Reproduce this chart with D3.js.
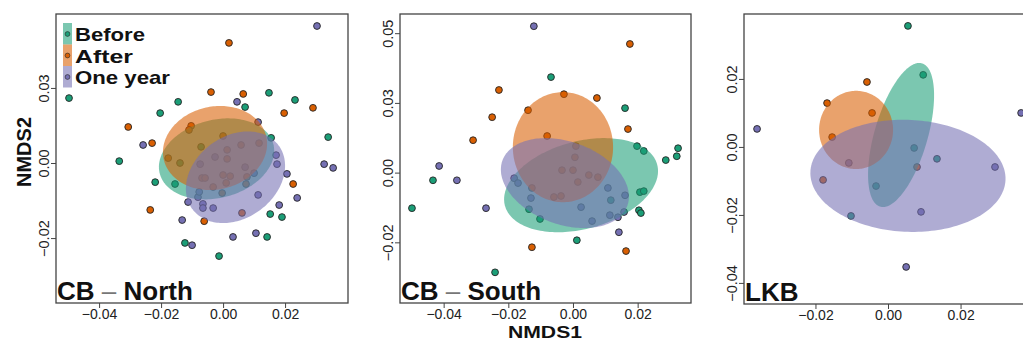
<!DOCTYPE html>
<html>
<head>
<meta charset="utf-8">
<script src="https://cdn.jsdelivr.net/npm/d3@7"></script>
<style>
  body { margin: 0; background: #fff; }
  svg { display: block; font-family: "Liberation Sans", Arial, Helvetica, sans-serif; }
</style>
</head>
<body>
<svg id="chart" width="1023" height="342"></svg>
<script>
// groups and colours
const groups = ['Before', 'After', 'One year'];
const dotColors = ['#1B9E77', '#D95F02', '#7570B3'];

// CB - North ordination scores
const northBefore = [[-0.0497,0.0173],[0.0148,0.0187],[0.0232,0.0168],[0.0071,0.0149],[-0.0145,0.0163],[-0.0203,0.0133],
  [0.0155,0.0067],[0.0339,0.0069],[-0.0335,0.0005],[-0.0219,-0.0051],[-0.0155,-0.0056],[0.0152,-0.0136],[0.019,-0.0144],
  [0.0142,-0.0197],[-0.0123,-0.0213],[-0.0013,-0.0248],[-0.0139,0.0],[-0.0071,0.0043]];
const northAfter = [[0.0019,0.032],[-0.0039,0.0189],[0.0065,0.0184],[0.029,0.0147],[0.0197,0.0133],[-0.0306,0.0096],
  [-0.0229,0.0053],[-0.0235,-0.0125],[-0.0061,-0.0155],[0.0226,-0.0056],[0.0061,-0.0133],[-0.0103,0.0099],[-0.011,0.0088],
  [0.0,0.0072],[-0.0177,0.0013],[0.0058,0.0048],[0.0116,0.0053],[0.0013,0.0035],[0.0013,0.0011],[-0.0068,-0.004],
  [-0.0058,-0.004],[0.0,-0.0032],[0.0023,-0.0035],[0.0077,-0.0037],[-0.0032,-0.0064],[0.001,-0.0053],[0.0074,-0.0056],[-0.0003,-0.008]];
const northYear = [[0.0303,0.0365],[0.0045,0.0163],[0.0113,0.0109],[-0.0258,0.0048],[0.0326,-0.0003],[0.0355,-0.0013],
  [0.0206,-0.0029],[0.0239,-0.0093],[0.0181,-0.0112],[-0.0113,-0.0104],[-0.0065,-0.0109],[-0.0065,-0.012],[-0.0032,-0.012],
  [-0.0132,-0.0152],[0.0106,-0.0187],[0.0032,-0.0197],[-0.01,-0.0219],[-0.0026,0.0016],[-0.0074,-0.0003],[0.0071,-0.0011],
  [0.0171,0.0021],[0.0174,-0.0003],[-0.0081,-0.0091],[0.0113,-0.0085],[-0.0077,-0.0077],[0.01,-0.0027]];

// CB - South ordination scores
const southBefore = [[-0.0068,0.0274],[0.0161,0.0185],[0.0198,0.0076],[0.0219,0.0062],[0.0325,0.007],[0.0321,0.0047],
  [0.0287,0.0036],[-0.0433,-0.0022],[-0.0498,-0.0102],[-0.0102,-0.0133],[0.0204,-0.0108],[0.021,-0.0116],[0.0012,-0.0194],
  [-0.0241,-0.0286],[0.0207,-0.0056],[0.0219,-0.0053],[0.0117,-0.0079],[-0.0136,-0.0105]];
const southAfter = [[0.0176,0.0369],[-0.0229,0.0237],[-0.0028,0.0225],[0.0074,0.0214],[-0.0139,0.0179],[-0.025,0.0159],
  [0.017,0.0125],[-0.0309,0.0093],[-0.0127,-0.0214],[0.0164,-0.0225],[-0.008,0.0105],[0.0009,0.0076],[0.0006,0.0044],
  [-0.0034,0.0007],[0.0,0.0007],[0.0049,-0.0007],[0.0077,-0.0013],[0.0015,-0.0027],[-0.0059,-0.007],[-0.0037,-0.0067],[-0.0127,-0.0044]];
const southYear = [[-0.0121,0.042],[-0.0414,0.0019],[-0.0359,-0.0022],[-0.0269,-0.0102],[-0.0182,-0.0016],[-0.017,-0.003],
  [0.0142,-0.0171],[-0.013,-0.0073],[0.0108,-0.0044],[0.0161,-0.0065],[0.0025,-0.0099],[0.0114,-0.0122],[0.0139,-0.0128],
  [0.0158,-0.0113],[0.0059,-0.0139]];

// LKB ordination scores
const lkbBefore = [[0.0055,0.0356],[0.0097,0.0212],[0.0072,-0.0003],[0.0135,-0.0035],[-0.0033,-0.0115],[-0.0102,-0.0203]];
const lkbAfter = [[-0.0058,0.0191],[-0.0168,0.0129],[-0.0044,0.01],[-0.0154,0.0029],[-0.0179,-0.0097],[0.008,-0.0059]];
const lkbYear = [[0.0367,0.01],[-0.0361,0.0053],[-0.0108,-0.0047],[0.0295,-0.0059],[0.0091,-0.0191],[0.005,-0.0353]];

// ellipses: centre, spread in x and y, correlation (order Before, After, One year)
const northEllipses = [
  { cx: -0.0021, cy: 0.0011, sx: 0.0186, sy: 0.0108, r: 0.2 },
  { cx: -0.0026, cy: 0.0040, sx: 0.0168, sy: 0.0112, r: 0.1 },
  { cx: 0.0040, cy: -0.0038, sx: 0.0160, sy: 0.0122, r: 0.25 }];
const southEllipses = [
  { cx: 0.0025, cy: -0.0036, sx: 0.0238, sy: 0.0135, r: 0.3 },
  { cx: -0.0031, cy: 0.0073, sx: 0.0155, sy: 0.0158, r: 0.0 },
  { cx: -0.0025, cy: -0.0030, sx: 0.0198, sy: 0.0129, r: -0.3 }];
const lkbEllipses = [
  { cx: 0.0036, cy: 0.0035, sx: 0.0091, sy: 0.0212, r: 0.55 },
  { cx: -0.0088, cy: 0.0050, sx: 0.0102, sy: 0.0115, r: 0.0 },
  { cx: 0.0055, cy: -0.0085, sx: 0.0269, sy: 0.0165, r: -0.05 }];

// ticks
const northXTicks = [-0.04, -0.02, 0, 0.02];
const southXTicks = [-0.04, -0.02, 0, 0.02];
const lkbXTicks = [-0.02, 0, 0.02];
const northYTicks = [0.02, 0, -0.02];
const northYLabels = ['0.03', '0.00', '\u22120.02'];
const southYTicks = [0.04, 0.02, 0, -0.02];
const southYLabels = ['0.05', '0.03', '0.00', '\u22120.02'];
const lkbYTicks = [0.02, 0, -0.02, -0.04];
const lkbYLabels = ['0.02', '0.00', '\u22120.02', '\u22120.04'];

const panels = [
  { title: 'CB', place: 'North', box: [56, 14, 348, 303], xlim: [-0.0539, 0.0403], ylim: [-0.0373, 0.0397],
    sets: [northBefore, northAfter, northYear], ellipses: northEllipses,
    xTicks: northXTicks, yTicks: northYTicks, yLabels: northYLabels, legend: true },
  { title: 'CB', place: 'South', box: [400, 14, 691, 303], xlim: [-0.0535, 0.0365], ylim: [-0.0374, 0.0455],
    sets: [southBefore, southAfter, southYear], ellipses: southEllipses,
    xTicks: southXTicks, yTicks: southYTicks, yLabels: southYLabels },
  { title: 'LKB', place: null, box: [744, 14, 1036, 304], xlim: [-0.0397, 0.0408], ylim: [-0.0462, 0.0391],
    sets: [lkbBefore, lkbAfter, lkbYear], ellipses: lkbEllipses,
    xTicks: lkbXTicks, yTicks: lkbYTicks, yLabels: lkbYLabels }
];

const svg = d3.select('#chart');
const fmt = d => d3.format('.2f')(d).replace('-', '\u2212');
const fillOpacity = 0.58;

panels.forEach(p => {
  const [x0, y0, x1, y1] = p.box;
  const x = d3.scaleLinear().domain(p.xlim).range([x0, x1]);
  const y = d3.scaleLinear().domain(p.ylim).range([y1, y0]);
  const g = svg.append('g');

  // points first, ellipses over them
  p.sets.forEach((set, i) => {
    g.selectAll(null).data(set).enter().append('circle')
      .attr('cx', d => x(d[0])).attr('cy', d => y(d[1]))
      .attr('r', 3.4)
      .attr('fill', dotColors[i])
      .attr('stroke', '#222').attr('stroke-width', 0.9);
  });

  const angles = d3.range(0, 2 * Math.PI, Math.PI / 90);
  const line = d3.line().x(d => x(d[0])).y(d => y(d[1])).curve(d3.curveLinearClosed);
  p.ellipses.forEach((e, i) => {
    const pts = angles.map(t => [
      e.cx + e.sx * Math.cos(t),
      e.cy + e.sy * (e.r * Math.cos(t) + Math.sqrt(1 - e.r * e.r) * Math.sin(t))
    ]);
    g.append('path').attr('d', line(pts))
      .attr('fill', dotColors[i]).attr('fill-opacity', fillOpacity).attr('stroke', 'none');
  });

  // axes
  const xa = g.append('g').attr('transform', `translate(0,${y1})`)
    .call(d3.axisBottom(x).tickValues(p.xTicks).tickSize(5).tickPadding(1).tickFormat(fmt));
  xa.select('.domain').remove();
  xa.selectAll('line').attr('stroke', '#444');
  xa.selectAll('text').attr('font-size', 14).attr('fill', '#222').style('font-family', 'inherit');

  const ya = g.append('g').attr('transform', `translate(${x0},0)`)
    .call(d3.axisLeft(y).tickValues(p.yTicks).tickSize(5).tickFormat((d, i) => p.yLabels[i]));
  ya.select('.domain').remove();
  ya.selectAll('line').attr('stroke', '#444');
  ya.selectAll('text')
    .attr('x', 0).attr('y', -7).attr('dy', 0)
    .attr('transform', 'rotate(-90)')
    .attr('text-anchor', 'middle')
    .attr('font-size', 14.5).attr('fill', '#222').style('font-family', 'inherit');

  g.append('rect').attr('x', x0).attr('y', y0).attr('width', x1 - x0).attr('height', y1 - y0)
    .attr('fill', 'none').attr('stroke', '#444').attr('stroke-width', 1.3);

  // panel label
  const t = g.append('text').attr('x', x0 + 1).attr('y', y1 - 3)
    .attr('font-size', 26).attr('font-weight', 'bold').attr('fill', '#111');
  t.append('tspan').text(p.title);
  if (p.place) {
    t.append('tspan').attr('fill', '#777').attr('font-weight', 'normal').text(' \u2013 ');
    t.append('tspan').text(p.place);
  }

  if (p.legend) {
    const lg = g.append('g');
    groups.forEach((name, i) => {
      const top = 23 + i * 21.5;
      lg.append('rect').attr('x', 63).attr('y', top).attr('width', 9).attr('height', 21.5)
        .attr('fill', dotColors[i]).attr('fill-opacity', fillOpacity);
      lg.append('circle').attr('cx', 67.5).attr('cy', top + 11).attr('r', 2.4)
        .attr('fill', dotColors[i]).attr('stroke', '#222').attr('stroke-width', 0.6);
      lg.append('text').attr('x', 75).attr('y', top + 18)
        .attr('font-size', 19).attr('font-weight', 'bold').attr('fill', '#111')
        .attr('textLength', [70, 58, 95][i]).attr('lengthAdjust', 'spacingAndGlyphs')
        .text(name);
    });
  }
});

// axis titles
svg.append('text').attr('transform', 'translate(31,152) rotate(-90)')
  .attr('text-anchor', 'middle').attr('font-size', 20).attr('font-weight', 'bold').attr('fill', '#111')
  .text('NMDS2');
svg.append('text').attr('x', 545).attr('y', 338)
  .attr('text-anchor', 'middle').attr('font-size', 17).attr('font-weight', 'bold').attr('fill', '#111')
  .attr('textLength', 74).attr('lengthAdjust', 'spacingAndGlyphs')
  .text('NMDS1');
</script>
</body>
</html>
